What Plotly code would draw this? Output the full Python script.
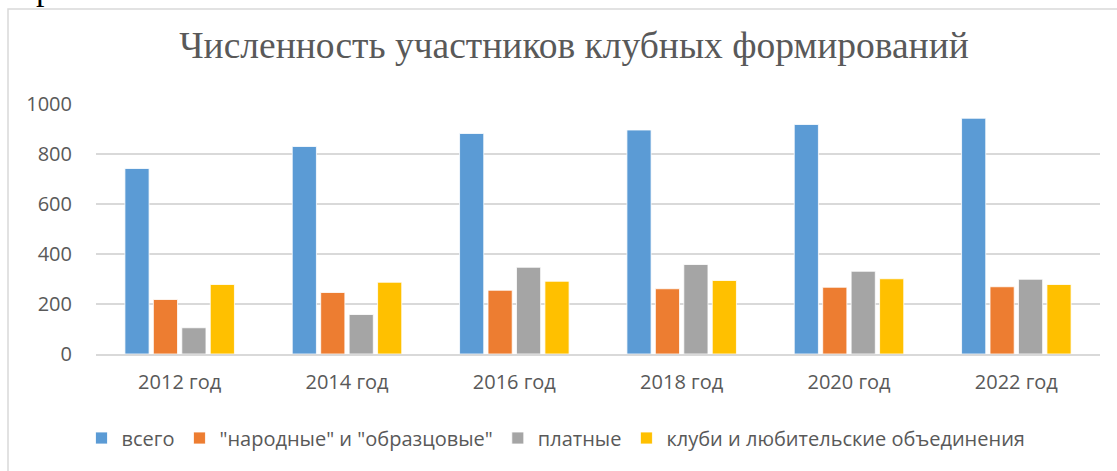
import plotly.graph_objects as go

categories = ["2012 год", "2014 год", "2016 год", "2018 год", "2020 год", "2022 год"]
series_names = ["всего", "\"народные\" и \"образцовые\"", "платные", "клуби и любительские объединения"]
vsego = [742, 830, 882, 896, 918, 943]
narodnye = [218, 246, 255, 261, 267, 269]
platnye = [105, 158, 347, 358, 331, 299]
kluby = [278, 287, 291, 294, 301, 278]
colors = ["#5B9BD5", "#ED7D31", "#A5A5A5", "#FFC000"]
y_ticks = [0, 200, 400, 600, 800, 1000]

W, H = 1117, 471
L, R, T, B = 96, 17, 104, 117
pw, ph = W - L - R, H - T - B

fig = go.Figure()
for name, vals, c in zip(series_names, [vsego, narodnye, platnye, kluby], colors):
    fig.add_trace(go.Bar(x=categories, y=vals, name=name,
                         marker=dict(color=c, line=dict(color="white", width=0.8))))

def px_x(p):
    return (p - L) / pw

def px_y(p):
    return (H - B - p) / ph

fig.update_layout(
    width=W, height=H,
    margin=dict(l=L, r=R, t=T, b=B, autoexpand=False),
    paper_bgcolor="white", plot_bgcolor="white",
    barmode="group", bargap=0.32, bargroupgap=0.15,
    font=dict(family="Open Sans", size=20, color="#595959"),
    title=dict(text="Численность участников клубных формирований",
               font=dict(family="Liberation Serif", size=37.5, color="#595959"),
               x=574 / W, xref="container", xanchor="center",
               y=1 - 45 / H, yref="container", yanchor="middle"),
    yaxis=dict(range=[0, 1000], tickvals=y_ticks, showgrid=True, gridcolor="#d9d9d9",
               gridwidth=1.5, zeroline=False, showline=False, ticks="",
               tickfont=dict(size=20, color="#595959"), ticklabelstandoff=23),
    xaxis=dict(showline=True, linecolor="#d9d9d9", linewidth=1.5, ticks="",
               tickfont=dict(size=20, color="#595959"), ticklabelstandoff=9),
    legend=dict(orientation="h", x=px_x(556), xanchor="center", y=px_y(438), yanchor="middle",
                font=dict(size=20, color="#595959"), itemwidth=30, traceorder="normal"),
    showlegend=True,
    shapes=[dict(type="rect", xref="paper", yref="paper",
                 x0=px_x(8), x1=px_x(1140), y0=px_y(500), y1=px_y(9),
                 line=dict(color="#d9d9d9", width=1.5), fillcolor="rgba(0,0,0,0)", layer="below")],
    annotations=[dict(text="р", xref="paper", yref="paper", x=px_x(44), y=px_y(8),
                      xanchor="center", yanchor="bottom", showarrow=False,
                      font=dict(family="Liberation Serif", size=34, color="black"), yshift=-1)],
)

fig.write_html("out.html", config={"displayModeBar": False},
               post_script="document.body.style.margin='0';document.body.style.overflow='hidden';")
